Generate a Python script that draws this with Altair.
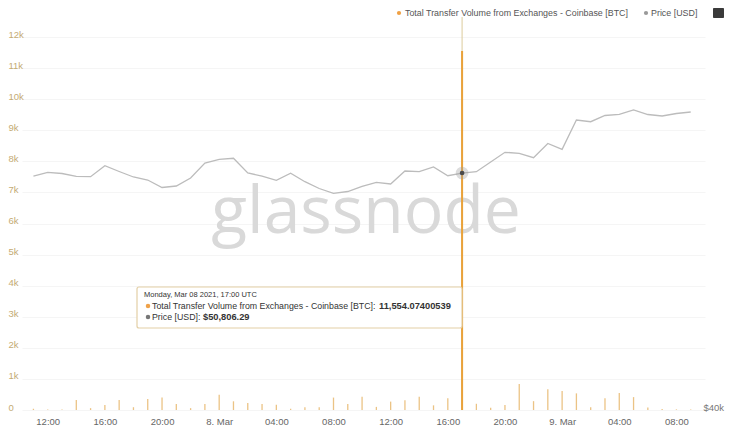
import altair as alt
import pandas as pd

# hour offsets from 2021-03-07 00:00 UTC (hourly data, Mar 7 11:00 .. Mar 9 09:00)
hours = [11, 12, 13, 14, 15, 16, 17, 18, 19, 20, 21, 22, 23, 24, 25, 26, 27, 28, 29, 30,
         31, 32, 33, 34, 35, 36, 37, 38, 39, 40, 41, 42, 43, 44, 45, 46, 47, 48, 49, 50,
         51, 52, 53, 54, 55, 56, 57]

volume_btc = [40, 20, 20, 320, 60, 160, 320, 90, 350, 400, 190, 60, 190, 490, 280, 225,
              190, 170, 40, 85, 85, 400, 190, 430, 100, 270, 310, 430, 150, 375,
              11554.07400539, 200, 70, 160, 840, 285, 670, 615, 535, 85, 380, 550, 415,
              80, 30, 20, 20]

price_usd = [50670, 50839, 50784, 50657, 50638, 51140, 50876, 50625, 50488, 50146, 50214,
             50579, 51263, 51432, 51478, 50807, 50670, 50474, 50794, 50410, 50100, 49882,
             49964, 50192, 50383, 50306, 50898, 50866, 51081, 50684, 50806.29, 50866, 51309,
             51751, 51706, 51505, 52152, 51888, 53224, 53146, 53429, 53484, 53680, 53475,
             53406, 53520, 53589]

x_ticks = [12, 16, 20, 24, 28, 32, 36, 40, 44, 48, 52, 56]
y_ticks = [0, 1000, 2000, 3000, 4000, 5000, 6000, 7000, 8000, 9000, 10000, 11000, 12000]
hover_hour = 41

df = pd.DataFrame({"h": hours, "vol": volume_btc, "price": price_usd})
hover = df[df["h"] == hover_hour]

FONT = "Liberation Sans"
W, H = 683, 390

xscale = alt.Scale(domain=[10.55, 57.65], nice=False, zero=False)
xaxis = alt.Axis(values=x_ticks, title=None, grid=False, domain=False, ticks=False,
                 labelPadding=6, labelColor="#666666", labelFontSize=9.5, labelFont=FONT,
                 labelExpr="datum.value == 24 ? '8. Mar' : datum.value == 48 ? '9. Mar' : "
                           "(datum.value % 24 < 10 ? '0' : '') + (datum.value % 24) + ':00'")
X = alt.X("h:Q", scale=xscale, axis=xaxis)

vscale = alt.Scale(domain=[0, 12550], nice=False)
vaxis = alt.Axis(values=y_ticks, title=None, orient="left", domain=False, ticks=False,
                 grid=True, gridColor="#f5f5f5", labelAlign="left", labelPadding=14,
                 labelOffset=-3, labelColor="#c4ab74", labelFontSize=9.5, labelFont=FONT,
                 labelExpr="datum.value == 0 ? '0' : (datum.value / 1000) + 'k'")

bars = alt.Chart(df).mark_bar(size=1.3, color="#e9bd78", opacity=0.9).encode(
    x=X, y=alt.Y("vol:Q", scale=vscale, axis=vaxis),
)

crosshair = alt.Chart(hover).mark_rule(color="#dccb9c", strokeWidth=1).encode(
    x=X, y=alt.value(-3), y2=alt.value(H),
)

big_bar = alt.Chart(hover).mark_bar(size=2, color="#e9a23a").encode(
    x=X, y=alt.Y("vol:Q", scale=vscale, axis=None),
)

pscale = alt.Scale(domain=[40000, 57784], nice=False, zero=False)
paxis = alt.Axis(values=[40000], orient="right", title=None, domain=False, ticks=False,
                 grid=False, labelPadding=-2, labelOffset=-3, labelAlign="left",
                 labelColor="#777777", labelFontSize=9.5, labelFont=FONT,
                 labelExpr="'$40k'")
line = alt.Chart(df).mark_line(color="#bcbcbc", strokeWidth=1.3).encode(
    x=X, y=alt.Y("price:Q", scale=pscale, axis=paxis),
)
halo = alt.Chart(hover).mark_circle(size=160, color="#9a9a9a", opacity=0.35).encode(
    x=X, y=alt.Y("price:Q", scale=pscale, axis=None),
)
dot = alt.Chart(hover).mark_circle(size=22, color="#4a4a4a", opacity=1).encode(
    x=X, y=alt.Y("price:Q", scale=pscale, axis=None),
)

def txt(s, x, y, size=9, color="#333333", weight="normal", align="left", font=FONT):
    return alt.Chart(pd.DataFrame({"t": [s]})).mark_text(
        align=align, baseline="middle", fontSize=size, color=color, fontWeight=weight, font=font
    ).encode(x=alt.value(x), y=alt.value(y), text="t:N")

def dotm(x, y, color, size=22):
    return alt.Chart(pd.DataFrame({"t": [0]})).mark_circle(size=size, color=color, opacity=1).encode(
        x=alt.value(x), y=alt.value(y))

watermark = txt("glassnode", 344, 193, size=66, color="#d9d9d9", align="center", font="Open Sans")

tip_box = alt.Chart(pd.DataFrame({"t": [0]})).mark_rect(
    fill="white", stroke="#e3cfa6", strokeWidth=1.2, cornerRadius=2
).encode(x=alt.value(115), x2=alt.value(440), y=alt.value(267), y2=alt.value(308))

tip = [
    tip_box,
    txt("Monday, Mar 08 2021, 17:00 UTC", 122, 275, size=7.5),
    dotm(126, 286, "#efa24a", 20),
    txt("Total Transfer Volume from Exchanges - Coinbase [BTC]:", 130, 286, size=8.8),
    txt("11,554.07400539", 357, 286, size=9.3, weight="bold"),
    dotm(126, 297, "#777777", 20),
    txt("Price [USD]:", 130, 297, size=8.8),
    txt("$50,806.29", 181, 297, size=9.3, weight="bold"),
]

legend = [
    dotm(377, -7, "#f0a043", 18),
    txt("Total Transfer Volume from Exchanges - Coinbase [BTC]", 383, -7, size=8.9, color="#555555"),
    dotm(624, -7, "#999999", 18),
    txt("Price [USD]", 629, -7, size=8.9, color="#555555"),
    alt.Chart(pd.DataFrame({"t": [0]})).mark_rect(fill="#3a3a3a", cornerRadius=1).encode(
        x=alt.value(691), x2=alt.value(702), y=alt.value(-12), y2=alt.value(-2)),
]

chart = alt.layer(
    watermark, bars, crosshair, big_bar, line, halo, dot, *tip, *legend
).resolve_scale(y="independent").properties(
    width=W, height=H,
    background="white",
    autosize=alt.AutoSizeParams(type="none"),
    padding={"left": 14, "top": 12, "right": 23, "bottom": 23},
).configure_view(stroke=None)

chart.save("out.html", embed_options={"renderer": "svg", "actions": False})
